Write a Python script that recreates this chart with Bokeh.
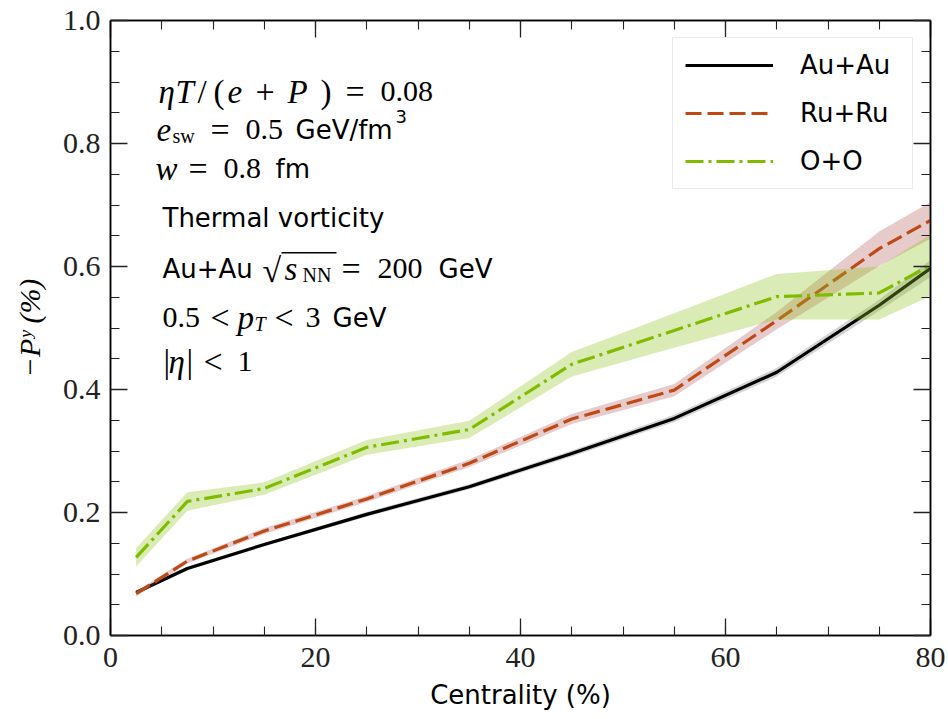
from bokeh.plotting import figure
from bokeh.models import (Range1d, LinearAxis, Label, Legend, LegendItem, BoxAnnotation,
                          SingleIntervalTicker, PrintfTickFormatter, CustomLabelingPolicy)
from bokeh.embed import file_html
from bokeh.resources import INLINE

# ---------------- data ----------------
centrality = [2.5, 7.5, 15, 25, 35, 45, 55, 65, 75, 80]

au_mean = [0.070, 0.109, 0.148, 0.197, 0.242, 0.296, 0.353, 0.428, 0.537, 0.597]
au_err  = [0.003, 0.003, 0.003, 0.004, 0.004, 0.005, 0.006, 0.007, 0.009, 0.014]

ru_mean = [0.068, 0.121, 0.170, 0.222, 0.280, 0.352, 0.399, 0.512, 0.629, 0.675]
ru_err  = [0.004, 0.004, 0.005, 0.005, 0.006, 0.008, 0.010, 0.014, 0.028, 0.030]

oo_mean = [0.127, 0.218, 0.239, 0.306, 0.335, 0.441, 0.496, 0.551, 0.557, 0.602]
oo_err  = [0.015, 0.015, 0.010, 0.012, 0.014, 0.020, 0.028, 0.037, 0.043, 0.050]

series_labels = ["Au+Au", "Ru+Ru", "O+O"]
x_ticks_major = 20
y_ticks_major = 0.2

# ---------------- figure ----------------
W, H = 948, 719
FL, FR, FT, FB = 110, 930, 20, 635
XMIN, XMAX, YMIN, YMAX = 0, 80, 0.0, 1.0

SERIF = "Liberation Serif"
SANS = "DejaVu Sans"

p = figure(width=W, height=H, x_range=Range1d(XMIN, XMAX), y_range=Range1d(YMIN, YMAX),
           output_backend="svg", toolbar_location=None,
           min_border_left=FL, min_border_right=W - FR,
           min_border_top=FT, min_border_bottom=H - FB)
p.xgrid.visible = False
p.ygrid.visible = False
p.outline_line_color = "black"
p.outline_line_width = 1.5
p.background_fill_color = "white"
p.border_fill_color = "white"

NO_LABELS = CustomLabelingPolicy(code="""
    if (typeof indices.unset !== 'function') { return indices }
    for (const i of Array.from(indices.ones())) { indices.unset(i) }
    return indices
""")


def style_axis(ax, ticker, labels=True, fmt="%d"):
    ax.ticker = ticker
    ax.formatter = PrintfTickFormatter(format=fmt)
    ax.axis_line_color = "black"
    ax.axis_line_width = 1.5
    ax.major_tick_in = 17
    ax.major_tick_out = 0
    ax.minor_tick_in = 9
    ax.minor_tick_out = 0
    ax.major_tick_line_width = 1.3
    ax.minor_tick_line_width = 1.1
    ax.major_tick_line_color = "#222222"
    ax.minor_tick_line_color = "#222222"
    if labels:
        ax.major_label_text_font = SERIF
        ax.major_label_text_font_size = "30px"
        ax.major_label_text_color = "#222222"
    else:
        ax.major_label_policy = NO_LABELS
        ax.major_label_text_font_size = "0px"
        ax.major_label_standoff = 0
        ax.axis_label = None


xt = SingleIntervalTicker(interval=x_ticks_major, num_minor_ticks=4)
yt = SingleIntervalTicker(interval=y_ticks_major, num_minor_ticks=4)

style_axis(p.xaxis[0], xt, True, "%d")
p.xaxis[0].major_label_standoff = 12
p.xaxis[0].axis_label = "Centrality (%)"
p.xaxis[0].axis_label_text_font = SANS
p.xaxis[0].axis_label_text_font_size = "26px"
p.xaxis[0].axis_label_text_font_style = "normal"
p.xaxis[0].axis_label_text_color = "black"
p.xaxis[0].axis_label_standoff = 10

style_axis(p.yaxis[0], yt, True, "%.1f")
p.yaxis[0].major_label_standoff = 10
p.yaxis[0].axis_label = "\u2212P\u02b8 (%)"
p.yaxis[0].axis_label_text_font = SERIF
p.yaxis[0].axis_label_text_font_size = "30px"
p.yaxis[0].axis_label_text_font_style = "italic"
p.yaxis[0].axis_label_text_color = "black"
p.yaxis[0].axis_label_standoff = 14

top_ax = LinearAxis()
style_axis(top_ax, SingleIntervalTicker(interval=x_ticks_major, num_minor_ticks=4), False)
p.add_layout(top_ax, "above")
right_ax = LinearAxis()
style_axis(right_ax, SingleIntervalTicker(interval=y_ticks_major, num_minor_ticks=4), False)
p.add_layout(right_ax, "right")

# ---------------- series ----------------
def band(mean, err):
    lo = [m - e for m, e in zip(mean, err)]
    hi = [m + e for m, e in zip(mean, err)]
    return lo, hi

specs = [
    (au_mean, au_err, "black", "#808080", 0.35, "solid"),
    (ru_mean, ru_err, "#bd4a16", "#b05050", 0.30, "16 6"),
    (oo_mean, oo_err, "#80bb00", "#8fc31f", 0.33, "18 5 3 5"),
]
items = []
for (mean, err, lc, fc, fa, dash), lab in zip(specs, series_labels):
    lo, hi = band(mean, err)
    p.varea(x=centrality, y1=lo, y2=hi, fill_color=fc, fill_alpha=fa)
    r = p.line(x=centrality, y=mean, line_color=lc, line_width=3.2, line_dash=dash)
    items.append(LegendItem(label=lab, renderers=[r]))

legend = Legend(items=items, location="top_right")
legend.margin = 17
legend.padding = 12
legend.spacing = 18
legend.glyph_width = 88
legend.glyph_height = 30
legend.label_height = 30
legend.label_width = 100
legend.label_standoff = 27
legend.label_text_font = SANS
legend.label_text_font_size = "26px"
legend.label_text_color = "black"
legend.border_line_color = "#d8d8d8"
legend.border_line_width = 1.2
legend.background_fill_color = "white"
legend.background_fill_alpha = 0.85
p.add_layout(legend)

# ---------------- annotation text ----------------
def X(px):
    return XMIN + (px - FL) / (FR - FL) * (XMAX - XMIN)


def Y(py):
    return YMIN + (FB - py) / (FB - FT) * (YMAX - YMIN)


def seg(text, px, py, font=SERIF, size=30, style="normal"):
    p.add_layout(Label(x=X(px), y=Y(py), text=text, text_font=font,
                       text_font_size=f"{size}px", text_font_style=style,
                       text_color="black", text_baseline="alphabetic",
                       text_align="left"))

IT = "italic"
MI = 33   # math italic size
EQ = 34   # relation symbols size
# line 1
b = 91
seg("\u03b7", 158, b, size=MI, style=IT)
seg("T", 175, b, size=MI, style=IT)
seg("/", 197, b, size=MI)
seg("(", 213, b, size=MI)
seg("e", 227, b, size=MI, style=IT)
seg("+", 255, b, size=EQ)
seg("P", 287, b, size=MI, style=IT)
seg(")", 320, b, size=MI)
seg("=", 345, b, size=EQ)
seg("0.08", 380, b)
# line 2
b = 129
seg("e", 156, b, size=MI, style=IT)
seg("sw", 172, b + 6, size=20)
seg("=", 210, b, size=EQ)
seg("0.5", 245, b)
seg("GeV/fm", 295, b, font=SANS, size=26)
seg("3", 395, b - 13, font=SANS, size=18)
# line 3
b = 168
seg("w", 155, b, size=MI, style=IT)
seg("=", 188, b, size=EQ)
seg("0.8", 223, b)
seg("fm", 275, b, font=SANS, size=26)
# line 4
seg("Thermal vorticity", 162, 217, font=SANS, size=26)
# line 5
b = 268
seg("Au+Au", 162, b, font=SANS, size=26)
seg("\u221a", 262, b + 2, size=34)
p.add_layout(BoxAnnotation(left=X(281), right=X(336), top=Y(251.5), bottom=Y(253),
                           fill_color="black", fill_alpha=1.0, line_color=None))
seg("s", 284, b, size=MI, style=IT)
seg("NN", 302, b + 6, size=20)
seg("=", 341, b, size=EQ)
seg("200", 377, b)
seg("GeV", 438, b, font=SANS, size=26)
# line 6
b = 317
seg("0.5", 162, b)
seg("<", 210, b, size=EQ)
seg("p", 237, b, size=MI, style=IT)
seg("T", 254, b + 6, size=20, style=IT)
seg("<", 274, b, size=EQ)
seg("3", 305, b)
seg("GeV", 332, b, font=SANS, size=26)
# line 7
b = 361
seg("|", 163, b, size=MI)
seg("\u03b7", 168, b, size=MI, style=IT)
seg("|", 186, b, size=MI)
seg("<", 203, b, size=EQ)
seg("1", 237, b)

open("out.html", "w").write(file_html(p, INLINE))
